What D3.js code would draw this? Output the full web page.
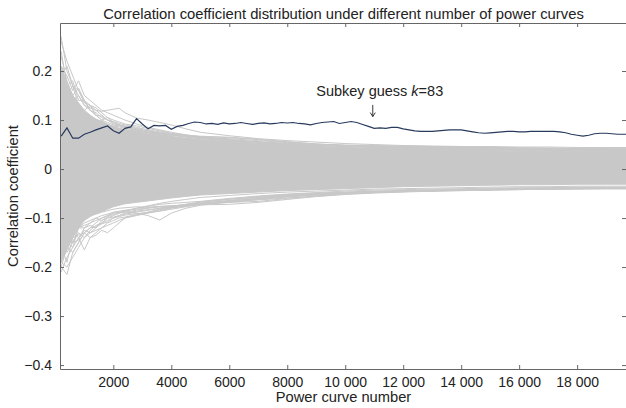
<!DOCTYPE html>
<html><head><meta charset="utf-8">
<script src="https://cdn.jsdelivr.net/npm/d3@7"></script>
<style>
html,body{margin:0;padding:0;background:#fff;}
svg{display:block;font-family:"Liberation Sans",Arial,sans-serif;}
</style></head>
<body><svg id="chart" width="626" height="408"></svg>
<script>
// ---------- DATA ----------
const titleText = "Correlation coefficient distribution under different number of power curves";
const xLabel = "Power curve number";
const yLabel = "Correlation coefficient";
const xTicks = [2000,4000,6000,8000,10000,12000,14000,16000,18000];
const yTicks = [0.2,0.1,0,-0.1,-0.2,-0.3,-0.4];

// correct subkey guess k=83, sampled every 200 curves (200 ... 19800)
const keyX = d3.range(200, 19801, 200);
const keyVals = [
 .067,.084,.063,.063,.071,.075,.080,.084,.088,.078,
 .073,.083,.086,.103,.092,.082,.089,.088,.089,.081,
 .087,.089,.093,.096,.095,.092,.093,.091,.094,.092,
 .093,.095,.093,.091,.093,.094,.092,.093,.095,.094,
 .095,.093,.092,.090,.093,.095,.096,.097,.093,.095,
 .097,.095,.091,.087,.083,.084,.083,.085,.085,.082,
 .080,.078,.077,.077,.077,.078,.079,.080,.080,.080,
 .078,.076,.074,.073,.074,.075,.076,.077,.077,.076,
 .076,.077,.077,.077,.077,.077,.076,.074,.071,.069,
 .067,.069,.072,.073,.073,.072,.071,.071,.071
];

// wrong guesses: sample positions
const wrongX = [200,400,600,800,1000,1200,1400,1600,1800,2000,2200,2400,2800,3200,3600,4000,4500,5000,6000,7000,8000,9000,10000,11000,12000,13000,14000,15000,16000,17000,18000,19000,19800];
// dense bundle of wrong guesses (upper / lower edge of the solid mass)
const coreUpper = [0.21,0.175,0.15,0.135,0.12,0.11,0.102,0.097,0.092,0.087,0.083,0.080,0.076,0.072,0.069,0.066,0.063,0.060,0.056,0.052,0.049,0.046,0.043,0.041,0.040,0.039,0.038,0.037,0.036,0.036,0.035,0.035,0.035];
const coreLower = [-0.19,-0.165,-0.14,-0.12,-0.105,-0.097,-0.091,-0.087,-0.082,-0.077,-0.074,-0.071,-0.068,-0.065,-0.062,-0.059,-0.056,-0.053,-0.050,-0.047,-0.044,-0.042,-0.040,-0.038,-0.036,-0.035,-0.034,-0.033,-0.032,-0.032,-0.031,-0.031,-0.031];
// individual outlying wrong guesses
const wrongCurves = [
 [0.27,0.20,0.17,0.15,0.13,0.12,0.11,0.10,0.095,0.09,0.088,0.085,0.080,0.075,0.07,0.066,0.062,0.058,0.054,0.050,0.048,0.046,0.044,0.042,0.041,0.040,0.040,0.039,0.038,0.038,0.037,0.037,0.036],
 [0.21,0.19,0.16,0.18,0.15,0.14,0.13,0.12,0.115,0.11,0.105,0.10,0.092,0.085,0.08,0.075,0.07,0.066,0.06,0.056,0.052,0.05,0.048,0.046,0.045,0.044,0.043,0.042,0.041,0.041,0.040,0.040,0.040],
 [0.15,0.16,0.14,0.15,0.13,0.125,0.12,0.118,0.12,0.122,0.124,0.115,0.104,0.10,0.095,0.09,0.082,0.075,0.068,0.062,0.058,0.055,0.052,0.05,0.048,0.047,0.046,0.046,0.045,0.045,0.044,0.044,0.044],
 [0.24,0.17,0.18,0.14,0.14,0.12,0.115,0.105,0.10,0.097,0.093,0.09,0.085,0.08,0.076,0.072,0.068,0.064,0.059,0.055,0.052,0.049,0.047,0.045,0.044,0.043,0.042,0.041,0.040,0.040,0.039,0.039,0.039],
 [0.18,0.15,0.17,0.13,0.12,0.13,0.11,0.10,0.105,0.095,0.09,0.088,0.082,0.078,0.074,0.07,0.065,0.062,0.057,0.053,0.05,0.048,0.046,0.044,0.043,0.042,0.041,0.04,0.04,0.039,0.039,0.038,0.038],
 [0.12,0.14,0.12,0.11,0.115,0.10,0.095,0.09,0.088,0.085,0.083,0.08,0.078,0.075,0.073,0.07,0.068,0.066,0.064,0.060,0.055,0.051,0.048,0.047,0.046,0.046,0.045,0.044,0.043,0.043,0.042,0.042,0.043],
 [0.26,0.22,0.19,0.16,0.14,0.13,0.12,0.11,0.10,0.095,0.09,0.085,0.08,0.074,0.07,0.066,0.061,0.057,0.052,0.049,0.046,0.044,0.042,0.041,0.04,0.039,0.038,0.038,0.037,0.037,0.036,0.036,0.036],
 [0.19,0.21,0.17,0.16,0.135,0.13,0.125,0.115,0.105,0.1,0.096,0.092,0.088,0.083,0.078,0.073,0.069,0.065,0.06,0.055,0.051,0.049,0.047,0.046,0.045,0.045,0.044,0.044,0.043,0.042,0.041,0.041,0.041],
 [0.16,0.13,0.15,0.12,0.11,0.105,0.1,0.098,0.09,0.088,0.086,0.083,0.079,0.076,0.072,0.068,0.066,0.064,0.062,0.058,0.054,0.051,0.049,0.048,0.047,0.046,0.045,0.044,0.043,0.042,0.042,0.041,0.041],
 [0.23,0.18,0.15,0.165,0.14,0.12,0.11,0.108,0.1,0.092,0.09,0.087,0.083,0.078,0.074,0.07,0.066,0.062,0.058,0.054,0.051,0.049,0.046,0.044,0.042,0.041,0.04,0.04,0.039,0.039,0.038,0.038,0.038],
 [-0.20,-0.215,-0.17,-0.15,-0.13,-0.12,-0.11,-0.10,-0.095,-0.09,-0.088,-0.085,-0.08,-0.075,-0.07,-0.066,-0.062,-0.058,-0.054,-0.05,-0.047,-0.045,-0.043,-0.041,-0.04,-0.039,-0.038,-0.037,-0.036,-0.036,-0.035,-0.035,-0.035],
 [-0.17,-0.15,-0.13,-0.14,-0.165,-0.14,-0.13,-0.12,-0.115,-0.11,-0.105,-0.1,-0.093,-0.088,-0.082,-0.077,-0.072,-0.067,-0.061,-0.056,-0.052,-0.049,-0.047,-0.045,-0.044,-0.043,-0.042,-0.041,-0.04,-0.04,-0.039,-0.039,-0.039],
 [-0.15,-0.16,-0.13,-0.12,-0.12,-0.11,-0.105,-0.10,-0.095,-0.09,-0.088,-0.087,-0.09,-0.095,-0.104,-0.09,-0.08,-0.074,-0.066,-0.06,-0.055,-0.052,-0.05,-0.048,-0.046,-0.045,-0.044,-0.043,-0.042,-0.041,-0.04,-0.04,-0.04],
 [-0.19,-0.2,-0.18,-0.16,-0.14,-0.13,-0.125,-0.12,-0.11,-0.105,-0.1,-0.098,-0.093,-0.088,-0.083,-0.079,-0.074,-0.07,-0.064,-0.058,-0.054,-0.051,-0.048,-0.046,-0.045,-0.044,-0.043,-0.042,-0.041,-0.040,-0.040,-0.039,-0.039],
 [-0.21,-0.18,-0.16,-0.14,-0.125,-0.13,-0.12,-0.11,-0.105,-0.1,-0.095,-0.09,-0.086,-0.083,-0.08,-0.078,-0.075,-0.072,-0.068,-0.062,-0.057,-0.053,-0.05,-0.047,-0.045,-0.044,-0.043,-0.042,-0.041,-0.041,-0.040,-0.040,-0.040],
 [-0.14,-0.17,-0.15,-0.13,-0.14,-0.125,-0.115,-0.11,-0.1,-0.098,-0.095,-0.092,-0.088,-0.084,-0.08,-0.076,-0.072,-0.068,-0.062,-0.057,-0.053,-0.05,-0.048,-0.046,-0.044,-0.043,-0.042,-0.041,-0.040,-0.039,-0.039,-0.038,-0.038],
 [-0.18,-0.14,-0.15,-0.145,-0.12,-0.115,-0.12,-0.105,-0.1,-0.095,-0.09,-0.086,-0.08,-0.076,-0.072,-0.07,-0.068,-0.066,-0.06,-0.055,-0.051,-0.048,-0.045,-0.043,-0.042,-0.041,-0.04,-0.039,-0.038,-0.038,-0.037,-0.037,-0.037],
 [-0.16,-0.19,-0.14,-0.135,-0.13,-0.14,-0.135,-0.125,-0.13,-0.12,-0.11,-0.1,-0.095,-0.09,-0.085,-0.08,-0.075,-0.07,-0.065,-0.06,-0.056,-0.053,-0.05,-0.048,-0.046,-0.045,-0.044,-0.043,-0.042,-0.041,-0.041,-0.040,-0.040],
 [-0.2,-0.16,-0.17,-0.15,-0.13,-0.12,-0.118,-0.112,-0.108,-0.1,-0.097,-0.094,-0.091,-0.089,-0.086,-0.082,-0.077,-0.072,-0.067,-0.063,-0.059,-0.056,-0.052,-0.049,-0.047,-0.045,-0.043,-0.042,-0.041,-0.040,-0.039,-0.039,-0.038],
 [-0.13,-0.15,-0.16,-0.12,-0.115,-0.11,-0.1,-0.105,-0.097,-0.093,-0.09,-0.088,-0.084,-0.08,-0.077,-0.075,-0.073,-0.07,-0.066,-0.061,-0.056,-0.052,-0.049,-0.047,-0.045,-0.044,-0.043,-0.042,-0.041,-0.041,-0.040,-0.040,-0.040],
 [-0.12,-0.14,-0.12,-0.11,-0.1,-0.095,-0.092,-0.088,-0.085,-0.082,-0.08,-0.079,-0.077,-0.078,-0.076,-0.075,-0.074,-0.073,-0.072,-0.068,-0.062,-0.056,-0.051,-0.048,-0.046,-0.044,-0.043,-0.042,-0.041,-0.040,-0.039,-0.039,-0.039],
 [-0.17,-0.13,-0.15,-0.12,-0.11,-0.105,-0.1,-0.095,-0.092,-0.088,-0.086,-0.084,-0.082,-0.079,-0.077,-0.078,-0.076,-0.071,-0.068,-0.066,-0.06,-0.055,-0.05,-0.047,-0.045,-0.043,-0.042,-0.041,-0.040,-0.039,-0.039,-0.038,-0.038],
 [0.14,0.16,0.13,0.12,0.11,0.1,0.097,0.094,0.09,0.086,0.082,0.08,0.077,0.074,0.072,0.07,0.069,0.067,0.065,0.061,0.056,0.051,0.048,0.046,0.045,0.044,0.043,0.042,0.041,0.041,0.040,0.040,0.040]
];
const annotation = {x: 10950, text: "Subkey guess ", italic: "k", rest: "=83"};

// ---------- LAYOUT ----------
const svg = d3.select("#chart");
const L = 60, R = 627, T = 23, B = 369;
const x = d3.scaleLinear().domain([160, 19720]).range([L, R]);
const y = d3.scaleLinear().domain([-0.408, 0.298]).range([B, T]);
const axisColor = "#666", textColor = "#222", gray = "#c8c8c8", navy = "#283a5e";

svg.append("defs").append("clipPath").attr("id","clip")
  .append("rect").attr("x",L).attr("y",T).attr("width",R-L).attr("height",B-T);
const plot = svg.append("g").attr("clip-path","url(#clip)");

// dense mass
const area = d3.area().x((d,i)=>x(wrongX[i])).y0((d,i)=>y(coreLower[i])).y1(d=>y(d));
plot.append("path").datum(coreUpper).attr("d", area).attr("fill", gray).attr("stroke", gray).attr("stroke-width",1);

const wl = d3.line().x((d,i)=>x(wrongX[i])).y(d=>y(d));
plot.selectAll("path.wrong").data(wrongCurves).join("path").attr("class","wrong")
  .attr("d", wl).attr("fill","none").attr("stroke",gray).attr("stroke-width",1);

const kl = d3.line().x((d,i)=>x(keyX[i])).y(d=>y(d));
plot.append("path").datum(keyVals).attr("d", kl).attr("fill","none").attr("stroke",navy).attr("stroke-width",1.2);

// axes
const fmtX = v => v >= 10000 ? d3.format(",")(v).replace(/,/g, " ") : String(v);
const fmtY = v => v === 0 ? "0" : d3.format(".1f")(v).replace("-", "\u2212");
const ax = svg.append("g").attr("transform",`translate(0,${B})`)
  .call(d3.axisBottom(x).tickValues(xTicks).tickFormat(fmtX).tickSizeInner(-4).tickSizeOuter(0).tickPadding(8));
const axTop = svg.append("g").attr("transform",`translate(0,${T})`)
  .call(d3.axisTop(x).tickValues(xTicks).tickFormat("").tickSizeInner(-4).tickSizeOuter(0));
const ay = svg.append("g").attr("transform",`translate(${L},0)`)
  .call(d3.axisLeft(y).tickValues(yTicks).tickFormat(fmtY).tickSizeInner(-4).tickSizeOuter(0).tickPadding(8));
const ayR = svg.append("g").attr("transform",`translate(${R-1},0)`)
  .call(d3.axisRight(y).tickValues(yTicks).tickFormat("").tickSizeInner(-4).tickSizeOuter(0));
[ax, axTop, ay, ayR].forEach(g => {
  g.select(".domain").attr("stroke", axisColor);
  g.selectAll(".tick line").attr("stroke", axisColor);
  g.selectAll("text").attr("fill", textColor).style("font-size","14px").style("font-family",'"Liberation Sans",Arial,sans-serif').style("white-space","pre");
});

// titles
svg.append("text").attr("x",(L+R)/2).attr("y",19).attr("text-anchor","middle")
  .attr("fill",textColor).style("font-size","14.8px").text(titleText);
svg.append("text").attr("x",(L+R)/2).attr("y",402).attr("text-anchor","middle")
  .attr("fill",textColor).style("font-size","14.7px").text(xLabel);
svg.append("text").attr("transform",`translate(18,${(T+B)/2}) rotate(-90)`).attr("text-anchor","middle")
  .attr("fill",textColor).style("font-size","14.7px").text(yLabel);

// annotation
const ann = svg.append("text").attr("x", x(11190)).attr("y", y(0.150)).attr("text-anchor","middle")
  .attr("fill",textColor).style("font-size","14.5px");
ann.append("tspan").text(annotation.text);
ann.append("tspan").style("font-style","italic").text(annotation.italic);
ann.append("tspan").text(annotation.rest);
const ax0 = x(annotation.x), ya = y(0.131), yb = y(0.107);
svg.append("line").attr("x1",ax0).attr("x2",ax0).attr("y1",ya).attr("y2",yb).attr("stroke",textColor).attr("stroke-width",0.9);
svg.append("path").attr("d",`M${ax0-2.5},${yb-4}L${ax0},${yb}L${ax0+2.5},${yb-4}`).attr("fill","none").attr("stroke",textColor).attr("stroke-width",0.9);
</script></body></html>
